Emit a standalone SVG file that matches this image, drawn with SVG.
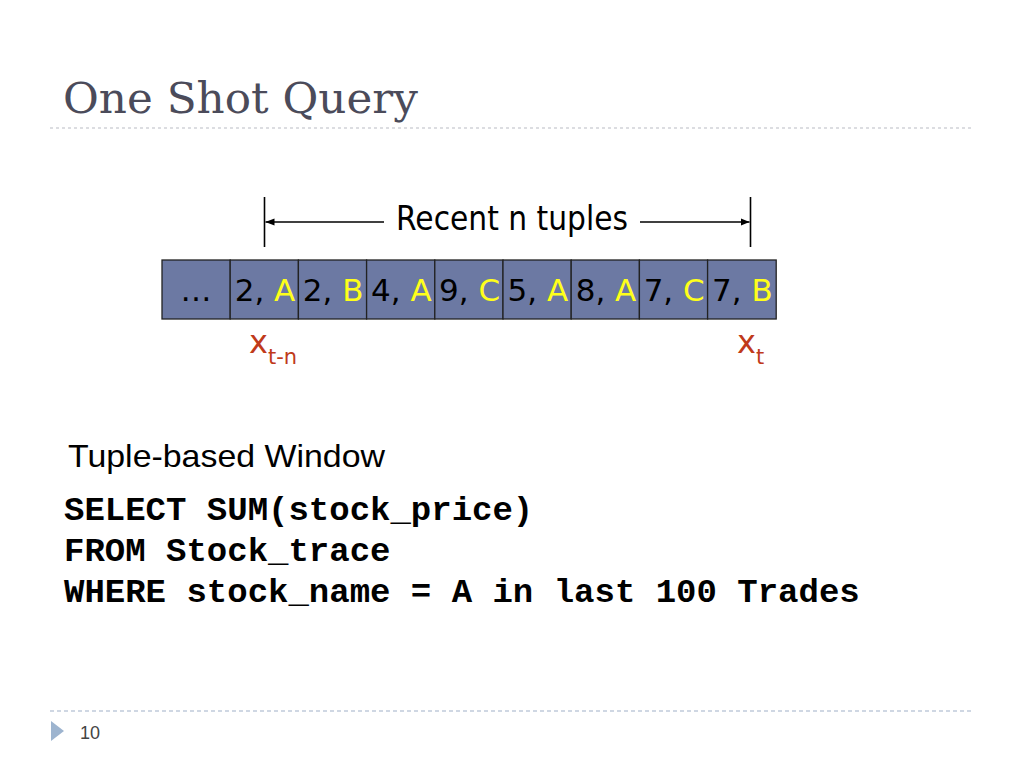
<svg xmlns="http://www.w3.org/2000/svg" width="1024" height="768" viewBox="0 0 1024 768">
<style>
.title{font-family:"DejaVu Serif",serif;font-size:43.7px;fill:#4b4b5a}
.cell{fill:#6c79a3;stroke:#222;stroke-width:1.3}
.ct{font-family:"DejaVu Sans",sans-serif;font-size:31px;fill:#000;text-anchor:middle}
.y{fill:#ffff1a}
.lbl{font-family:"DejaVu Sans",sans-serif;font-size:33px;fill:#000}
.red{font-family:"DejaVu Sans",sans-serif;fill:#c03a1a}
.sql{font-family:"Liberation Mono","Courier New",monospace;font-weight:bold;font-size:34px;fill:#000}
.dash{stroke:#b9bcc4;stroke-width:1.2;stroke-dasharray:3 3;fill:none}
.dash2{stroke:#9fb0c8;stroke-width:1.2;stroke-dasharray:4 3;fill:none}
.ln{stroke:#000;stroke-width:1.6;fill:none}
</style>
<defs>
<marker id="ah" viewBox="0 0 10 10" refX="10" refY="5" markerWidth="9" markerHeight="9" markerUnits="userSpaceOnUse" orient="auto-start-reverse">
<path d="M0,1 L10,5 L0,9 Z" fill="#000"/>
</marker>
</defs>
<rect width="1024" height="768" fill="#fff"/>
<g id="header">
<text class="title" x="63" y="113">One Shot Query</text>
<line class="dash" x1="50" y1="128" x2="973" y2="128"/>
</g>
<g id="window-label">
<line class="ln" x1="264.5" y1="197" x2="264.5" y2="247"/>
<line class="ln" x1="750.5" y1="197" x2="750.5" y2="247"/>
<text class="lbl" x="512" y="230" text-anchor="middle" textLength="232" lengthAdjust="spacingAndGlyphs">Recent n tuples</text>
</g>
<g id="connectors">
<line class="ln" x1="384" y1="222" x2="265.5" y2="222" marker-end="url(#ah)"/>
<line class="ln" x1="640" y1="222" x2="749.5" y2="222" marker-end="url(#ah)"/>
</g>
<g id="tuples">
<rect class="cell" x="162" y="260" width="68.2" height="59"/>
<rect class="cell" x="230.2" y="260" width="68.2" height="59"/>
<rect class="cell" x="298.4" y="260" width="68.2" height="59"/>
<rect class="cell" x="366.6" y="260" width="68.2" height="59"/>
<rect class="cell" x="434.8" y="260" width="68.2" height="59"/>
<rect class="cell" x="503" y="260" width="68.2" height="59"/>
<rect class="cell" x="571.2" y="260" width="68.2" height="59"/>
<rect class="cell" x="639.4" y="260" width="68.2" height="59"/>
<rect class="cell" x="707.6" y="260" width="68.6" height="59"/>
<text class="ct" x="196" y="301">…</text>
<text class="ct" x="265" y="301">2, <tspan class="y">A</tspan></text>
<text class="ct" x="333.2" y="301">2, <tspan class="y">B</tspan></text>
<text class="ct" x="401.4" y="301">4, <tspan class="y">A</tspan></text>
<text class="ct" x="469.6" y="301">9, <tspan class="y">C</tspan></text>
<text class="ct" x="537.8" y="301">5, <tspan class="y">A</tspan></text>
<text class="ct" x="606" y="301">8, <tspan class="y">A</tspan></text>
<text class="ct" x="674.2" y="301">7, <tspan class="y">C</tspan></text>
<text class="ct" x="742.4" y="301">7, <tspan class="y">B</tspan></text>
</g>
<g id="markers">
<text class="red" x="249" y="353" font-size="32">x<tspan font-size="21" dy="11">t-n</tspan></text>
<text class="red" x="737" y="353" font-size="32">x<tspan font-size="21" dy="11">t</tspan></text>
</g>
<g id="query">
<text x="68" y="467" font-family="Liberation Sans, Arial, sans-serif" font-size="32" fill="#000" textLength="317" lengthAdjust="spacingAndGlyphs">Tuple-based Window</text>
<text class="sql" x="64" y="520">SELECT SUM(stock_price)</text>
<text class="sql" x="64" y="561">FROM Stock_trace</text>
<text class="sql" x="64" y="602">WHERE stock_name = A in last 100 Trades</text>
</g>
<g id="footer">
<line class="dash2" x1="50" y1="711" x2="973" y2="711"/>
<polygon points="51,721 64,731 51,741" fill="#9db4cf"/>
<text x="80" y="739" font-family="Liberation Sans, Arial, sans-serif" font-size="18" fill="#444">10</text>
</g>
</svg>
